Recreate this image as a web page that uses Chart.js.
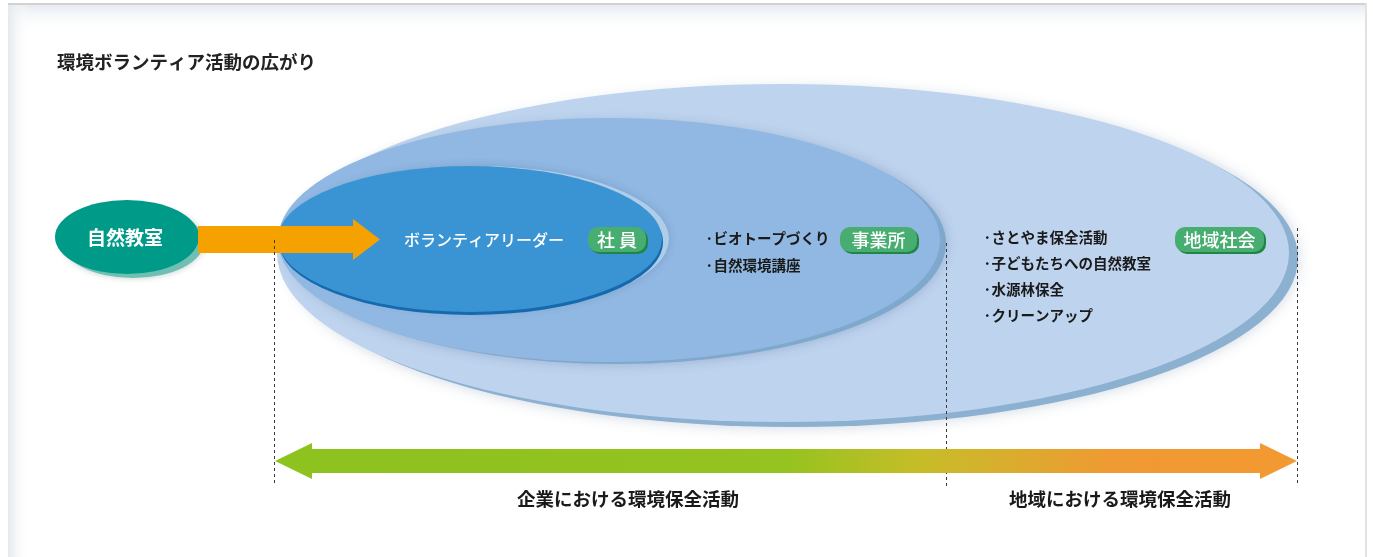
<!DOCTYPE html>
<html><head><meta charset="utf-8">
<script src="https://cdn.jsdelivr.net/npm/chart.js@4/dist/chart.umd.min.js"></script>
<style>html,body{margin:0;padding:0;background:#fff;}#wrap{width:1373px;height:557px;}</style>
</head><body><div id="wrap"><canvas id="c" width="1373" height="557"></canvas></div>
<script>
const title = '環境ボランティア活動の広がり';
const startLabel = '自然教室';
const leaderLabel = 'ボランティアリーダー';
const circleLabels = ['社 員', '事業所', '地域社会'];
const officeItems = ['·ビオトープづくり', '·自然環境講座'];
const communityItems = ['·さとやま保全活動', '·子どもたちへの自然教室', '·水源林保全', '·クリーンアップ'];
const rangeLabels = ['企業における環境保全活動', '地域における環境保全活動'];

const FONT = '"Noto Sans CJK JP","Noto Sans",sans-serif';

const diagram = {
  id: 'diagram',
  beforeDraw(chart) {
    const ctx = chart.ctx, sx = chart.scales.x, sy = chart.scales.y;
    const X = v => sx.getPixelForValue(v), Y = v => sy.getPixelForValue(v);
    const W = v => Math.abs(sx.getPixelForValue(v) - sx.getPixelForValue(0));
    const H = v => Math.abs(sy.getPixelForValue(v) - sy.getPixelForValue(0));
    function ell(cx, cy, rx, ry, fill, shadow) {
      ctx.save();
      if (shadow) { ctx.shadowColor = shadow.c; ctx.shadowBlur = shadow.b; ctx.shadowOffsetX = shadow.x||0; ctx.shadowOffsetY = shadow.y||0; }
      ctx.beginPath(); ctx.ellipse(X(cx), Y(cy), W(rx), H(ry), 0, 0, Math.PI*2);
      ctx.fillStyle = fill; ctx.fill(); ctx.restore();
    }
    function txt(s, x, y, size, color, weight, align) {
      ctx.save(); ctx.font = (weight||'bold') + ' ' + size + 'px ' + FONT;
      ctx.fillStyle = color; ctx.textAlign = align||'left'; ctx.textBaseline = 'middle';
      ctx.fillText(s, X(x), Y(y)); ctx.restore();
    }
    function rr(x, y, w, h, r) {
      ctx.beginPath(); ctx.roundRect(X(x), Y(y), W(w), H(h), r);
    }
    function badge(s, x, y, w, h) {
      ctx.save();
      rr(x+2, y+2, w, h, 10); ctx.fillStyle = '#1f8646'; ctx.fill();
      rr(x, y, w, h, 10); ctx.fillStyle = '#47ad70'; ctx.fill();
      ctx.restore();
      txt(s, x + w/2, y + h/2 + 0.5, 18, '#ffffff', '500', 'center');
    }
    // background panel
    ctx.save();
    ctx.fillStyle = '#ffffff'; ctx.fillRect(0, 0, chart.width, chart.height);
    let g = ctx.createLinearGradient(0, Y(5), 0, Y(32));
    g.addColorStop(0, '#e6ebf0'); g.addColorStop(1, 'rgba(255,255,255,0)');
    ctx.fillStyle = g; ctx.fillRect(X(8), Y(5), W(1358), H(27));
    g = ctx.createLinearGradient(X(8), 0, X(30), 0);
    g.addColorStop(0, '#e4e9ee'); g.addColorStop(1, 'rgba(255,255,255,0)');
    ctx.fillStyle = g; ctx.fillRect(X(8), Y(5), W(22), H(552));
    ctx.fillStyle = '#d2d2d2'; ctx.fillRect(X(8), Y(3), W(1359), H(2));
    ctx.fillStyle = '#e2e2e2'; ctx.fillRect(X(1365), Y(3), W(2), H(554));
    ctx.restore();

    txt(title, 57, 62, 18.5, '#222222', 'bold');

    // outer ellipse (community)
    ell(793, 258, 505, 169, '#8cb0d0', {c:'rgba(60,90,130,0.25)', b:14});
    ell(783, 253, 506, 169, '#bed3ee');
    // middle ellipse (office)
    ell(616, 243, 330, 121, '#7ea8cc', {c:'rgba(40,70,110,0.25)', b:12});
    ell(609, 240, 331, 122, '#90b8e2');
    // inner ellipse (staff)
    ell(478, 239, 191, 73, '#b0cde8', {c:'rgba(40,70,110,0.2)', b:8});
    ell(471, 242, 192, 73, '#1569ad');
    ell(470, 239, 192, 73, '#3a94d3');

    // start ellipse
    ell(133, 242, 71, 36, '#6fc0b2', {c:'rgba(0,60,50,0.25)', b:6});
    ell(127, 237, 72, 37, '#009a89');
    txt(startLabel, 125, 238, 19, '#ffffff', 'bold', 'center');

    // orange arrow
    ctx.save(); ctx.beginPath();
    ctx.moveTo(X(198), Y(226)); ctx.lineTo(X(353), Y(226)); ctx.lineTo(X(353), Y(219));
    ctx.lineTo(X(380), Y(239.5)); ctx.lineTo(X(353), Y(260)); ctx.lineTo(X(353), Y(253));
    ctx.lineTo(X(198), Y(253)); ctx.closePath();
    ctx.fillStyle = '#f5a200'; ctx.fill(); ctx.restore();

    txt(leaderLabel, 404, 240, 16, '#ffffff', '500');
    badge(circleLabels[0], 588, 227, 58, 25);
    officeItems.forEach((s, i) => txt(s, 705, 238 + i*27, 14.5, '#1a1a1a', 'bold'));
    badge(circleLabels[1], 840, 227, 77, 25);
    communityItems.forEach((s, i) => txt(s, 983, 237 + i*26.3, 14.5, '#1a1a1a', 'bold'));
    badge(circleLabels[2], 1175, 227, 89, 25);
  },
  afterDraw(chart) {
    const ctx = chart.ctx, sx = chart.scales.x, sy = chart.scales.y;
    const X = v => sx.getPixelForValue(v), Y = v => sy.getPixelForValue(v);
    // dashed lines
    ctx.save(); ctx.strokeStyle = '#3a3a3a'; ctx.lineWidth = 1; ctx.setLineDash([3, 3]);
    [[274.5, 240], [946.5, 243], [1297.5, 228]].forEach(([x, y0]) => {
      ctx.beginPath(); ctx.moveTo(X(x), Y(y0)); ctx.lineTo(X(x), Y(486)); ctx.stroke();
    });
    ctx.restore();
    // double arrow
    ctx.save();
    const g = ctx.createLinearGradient(X(275), 0, X(1297), 0);
    g.addColorStop(0, '#8dc21f'); g.addColorStop(0.5, '#95c31f'); g.addColorStop(0.63, '#c6bd28');
    g.addColorStop(0.82, '#f09a33'); g.addColorStop(1, '#f39931');
    ctx.beginPath();
    ctx.moveTo(X(275), Y(461)); ctx.lineTo(X(312), Y(443)); ctx.lineTo(X(312), Y(449));
    ctx.lineTo(X(1260), Y(449)); ctx.lineTo(X(1260), Y(443)); ctx.lineTo(X(1297), Y(461));
    ctx.lineTo(X(1260), Y(479)); ctx.lineTo(X(1260), Y(473)); ctx.lineTo(X(312), Y(473));
    ctx.lineTo(X(312), Y(479)); ctx.closePath();
    ctx.fillStyle = g; ctx.fill(); ctx.restore();
    ctx.save(); ctx.font = 'bold 18.5px ' + FONT; ctx.fillStyle = '#1a1a1a';
    ctx.textAlign = 'center'; ctx.textBaseline = 'middle';
    ctx.fillText(rangeLabels[0], X(628), Y(499));
    ctx.fillText(rangeLabels[1], X(1120), Y(499));
    ctx.restore();
  }
};

new Chart(document.getElementById('c'), {
  type: 'scatter',
  data: { datasets: [{ data: [], pointRadius: 0 }] },
  options: {
    responsive: false, animation: false, devicePixelRatio: 1,
    layout: { padding: 0 },
    plugins: { legend: { display: false }, tooltip: { enabled: false } },
    scales: {
      x: { type: 'linear', min: 0, max: 1373, display: false },
      y: { type: 'linear', min: 0, max: 557, reverse: true, display: false }
    }
  },
  plugins: [diagram]
});
</script></body></html>
